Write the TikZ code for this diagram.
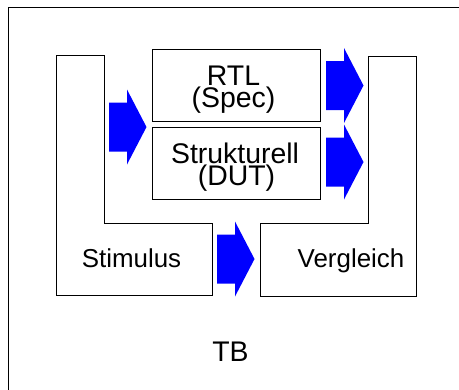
\documentclass[tikz,border=0pt]{standalone}
\usepackage{fontspec}
\setmainfont{Liberation Sans}
\definecolor{arrowblue}{RGB}{0,0,255}
\tikzset{
  frame/.style={draw=black, line width=1bp},
  box/.style={draw=black, line width=1bp, rectangle, minimum width=168bp,
              minimum height=72bp, inner sep=0pt},
  lbl/.style={anchor=base, inner sep=0pt, text height=14bp, text depth=2bp},
  big/.style={lbl, font=\fontsize{28.5}{22}\selectfont},
  small/.style={lbl, font=\fontsize{26}{22}\selectfont},
  blockarrow/.pic={
    \fill[arrowblue] (0,-24.5) -- (18,-24.5) -- (18,-37.5) -- (37.5,0)
      -- (18,37.5) -- (18,24.5) -- (0,24.5) -- cycle;
  }
}
\begin{document}
\begin{tikzpicture}[x=1bp, y=-1bp]
\useasboundingbox (0,0) rectangle (459,389);

% testbench frame (runs past the right and bottom edges)
\begin{scope}
  \clip (0,0) rectangle (459,389);
  \draw[frame] (8,7.5) -- (480,7.5) -- (480,400) -- (8,400) -- cycle;
\end{scope}

% stimulus and comparison blocks (L-shaped)
\draw[frame] (56,55.5) -- (104,55.5) -- (104,223.5) -- (212,223.5)
  -- (212,295.5) -- (56,295.5) -- cycle;
\draw[frame] (368,56.5) -- (416,56.5) -- (416,296.5) -- (260,296.5)
  -- (260,223.5) -- (368,223.5) -- cycle;

% models under test
\node[box] (rtl) at (236,85.5) {};
\node[box] (struct) at (236,163.5) {};

% data flow
\pic (ain)   at (109,127)  {blockarrow};
\pic (artl)  at (326,85.5) {blockarrow};
\pic (astr)  at (326,162)  {blockarrow};
\pic (astim) at (217,259)  {blockarrow};

% labels
\node[big]   (rtltxt)  at (233.5,85.3) {RTL};
\node[big]   (spectxt) at (233.5,107.6) {(Spec)};
\node[big]   (strtxt)  at (235,163.2)  {Strukturell};
\node[big]   (duttxt)  at (236.5,185.4) {(DUT)};
\node[small] (stimtxt) at (131.5,267)  {Stimulus};
\node[small] (vgltxt)  at (351,267)    {Vergleich};
\node[big]   (tbtxt)   at (230.5,361)  {TB};
\end{tikzpicture}
\end{document}
